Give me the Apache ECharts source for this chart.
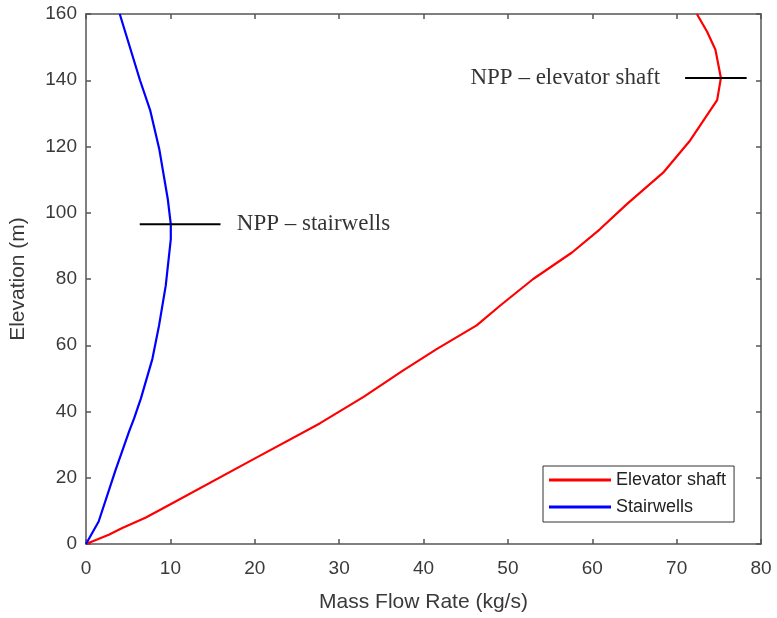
<!DOCTYPE html>
<html>
<head>
<meta charset="utf-8">
<script src="https://cdn.jsdelivr.net/npm/echarts@6/dist/echarts.min.js"></script>
<style>html,body{margin:0;padding:0;background:#fff}#c{width:777px;height:618px}</style>
</head>
<body>
<div id="c"></div>
<script>
// Data: [mass flow rate (kg/s), elevation (m)]
const elevatorShaft = [
  [0,0],[2.7,2.8],[4.3,4.8],[7.1,8.0],[9.85,11.8],[19.7,25.4],[27.7,36.4],[32.9,44.4],
  [37.6,52.4],[41.6,58.9],[46.3,66.0],[49.1,72.0],[53.0,80.0],[57.6,88.0],[60.9,95.0],
  [64.1,102.6],[68.4,112.1],[71.5,121.5],[74.8,134.0],[75.25,140.7],[74.6,149.2],[73.6,154.7],[72.4,160]
];
const stairwells = [
  [0,0],[1.5,6.8],[3.5,22.3],[5.1,33.9],[5.7,37.9],[6.5,43.9],[7.87,55.9],[8.66,66.0],
  [9.45,78.0],[10.05,92.0],[10.05,96.5],[9.7,104.0],[8.7,119.0],[7.6,131.0],[6.4,140.0],[4.0,160]
];
const seriesNames = ['Elevator shaft','Stairwells'];
const xTicks = {min:0, max:80, interval:10};
const yTicks = {min:0, max:160, interval:20};
const stairLine = [[6.37,96.5],[15.94,96.5]];
const elevLine = [[71.0,140.66],[78.3,140.66]];
const annotations = [
  {value:[17.87,96.5], text:'NPP – stairwells', side:'right'},
  {value:[68.05,140.66], text:'NPP – elevator shaft', side:'left'}
];

const chart = echarts.init(document.getElementById('c'), null, {renderer:'canvas'});
const axisColor = '#555';
const textColor = '#3a3a3a';
const sans = 'Liberation Sans, Arial, sans-serif';
const serif = 'Liberation Serif, Times New Roman, serif';

function baseAxis(extra){
  return Object.assign({
    type:'value',
    splitLine:{show:false},
    axisLine:{show:true, onZero:false, lineStyle:{color:axisColor, width:1.5}},
    axisTick:{show:true, inside:true, length:5, lineStyle:{color:axisColor, width:1.5}},
  }, extra);
}

chart.setOption({
  animation:false,
  backgroundColor:'#fff',
  grid:{left:86, right:16, top:14, bottom:72, containLabel:false},
  xAxis:[
    baseAxis({position:'bottom', min:xTicks.min, max:xTicks.max, interval:xTicks.interval,
      name:'Mass Flow Rate (kg/s)', nameLocation:'middle', nameGap:48,
      nameTextStyle:{fontFamily:sans, fontSize:21, color:textColor},
      axisLabel:{margin:15, fontFamily:sans, fontSize:19, color:textColor}}),
    baseAxis({position:'top', min:xTicks.min, max:xTicks.max, interval:xTicks.interval,
      axisLabel:{show:false}})
  ],
  yAxis:[
    baseAxis({position:'left', min:yTicks.min, max:yTicks.max, interval:yTicks.interval,
      name:'Elevation (m)', nameLocation:'middle', nameGap:57, nameRotate:90,
      nameTextStyle:{fontFamily:sans, fontSize:21, color:textColor},
      axisLabel:{margin:9, fontFamily:sans, fontSize:19, color:textColor}}),
    baseAxis({position:'right', min:yTicks.min, max:yTicks.max, interval:yTicks.interval,
      axisLabel:{show:false}})
  ],
  legend:{
    data:seriesNames,
    orient:'vertical', left:543, top:466,
    padding:[5,8,6,6], itemGap:9,
    itemWidth:62, itemHeight:3, icon:'rect',
    backgroundColor:'#fff', borderColor:'#333', borderWidth:1,
    textStyle:{fontFamily:sans, fontSize:18, color:'#222', padding:[0,0,0,0]}
  },
  series:[
    {name:seriesNames[0], type:'line', data:elevatorShaft, showSymbol:false, smooth:false,
      lineStyle:{color:'#ff0000', width:2.2}, itemStyle:{color:'#ff0000'}, z:3},
    {name:seriesNames[1], type:'line', data:stairwells, showSymbol:false, smooth:false,
      lineStyle:{color:'#0000ff', width:2.2}, itemStyle:{color:'#0000ff'}, z:3},
    {name:'stairLine', type:'line', data:stairLine, showSymbol:false,
      lineStyle:{color:'#000', width:2}, z:4},
    {name:'elevLine', type:'line', data:elevLine, showSymbol:false,
      lineStyle:{color:'#000', width:2}, z:4},
    {name:'annot', type:'scatter', symbolSize:0, z:5,
      data:annotations.map(a=>({value:a.value, label:{show:true, position:a.side, distance:0,
        formatter:a.text, fontFamily:serif, fontSize:23, color:'#000', padding:[3,0,0,0]}}))}
  ]
});
</script>
</body>
</html>
